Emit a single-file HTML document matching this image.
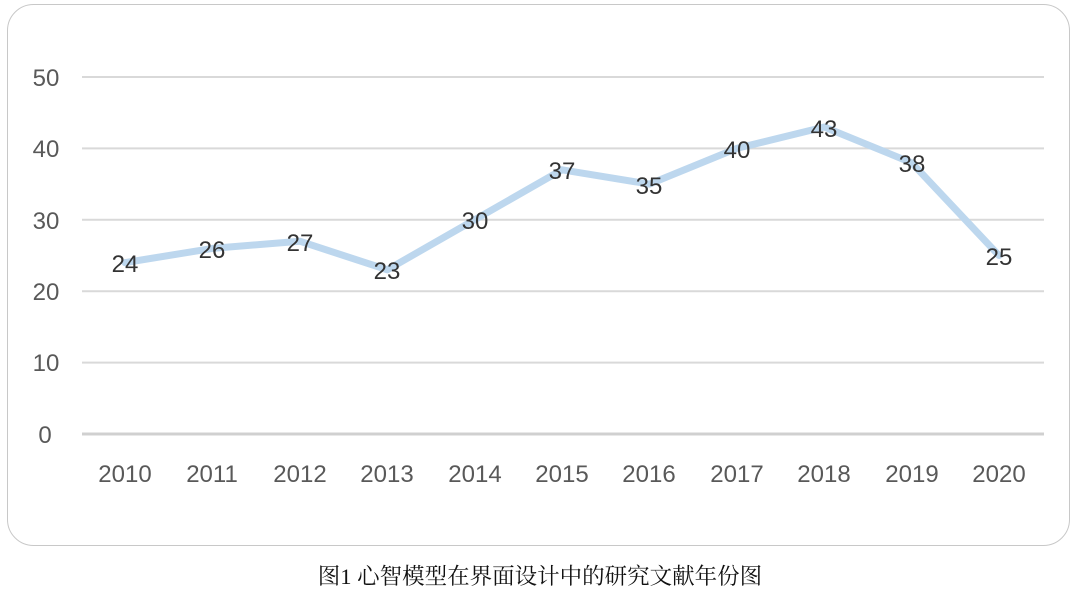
<!DOCTYPE html>
<html><head><meta charset="utf-8"><style>
body{margin:0;background:#fff;width:1071px;height:605px;overflow:hidden}
</style></head><body>
<svg width="1071" height="605" xmlns="http://www.w3.org/2000/svg" font-family="'Liberation Sans','DejaVu Sans',sans-serif">
<rect x="7.5" y="4.5" width="1062" height="541" rx="26" fill="#fff" stroke="#c8c8c8" stroke-width="1"/>
<g stroke="#d9d9d9" stroke-width="2">
<line x1="82" y1="77" x2="1044" y2="77"/>
<line x1="82" y1="148.4" x2="1044" y2="148.4"/>
<line x1="82" y1="219.8" x2="1044" y2="219.8"/>
<line x1="82" y1="291.2" x2="1044" y2="291.2"/>
<line x1="82" y1="362.6" x2="1044" y2="362.6"/>
<line x1="82" y1="434" x2="1044" y2="434" stroke="#d0d0d0" stroke-width="3"/>
</g>
<g fill="#595959" font-size="24" text-anchor="middle">
<text x="46" y="86">50</text><text x="46" y="157">40</text><text x="46" y="229">30</text>
<text x="46" y="300">20</text><text x="46" y="371">10</text><text x="45" y="443">0</text>
<text x="125" y="482">2010</text><text x="212" y="482">2011</text><text x="300" y="482">2012</text>
<text x="387" y="482">2013</text><text x="475" y="482">2014</text><text x="562" y="482">2015</text>
<text x="649" y="482">2016</text><text x="737" y="482">2017</text><text x="824" y="482">2018</text>
<text x="912" y="482">2019</text><text x="999" y="482">2020</text>
</g>
<polyline fill="none" stroke="#bdd7ee" stroke-width="7" stroke-linejoin="round" stroke-linecap="round"
points="125,262.6 212.4,248.4 299.8,241.2 387.2,269.8 474.6,219.8 562,169.8 649.4,184.1 736.8,148.4 824.2,127 911.6,162.7 999,255.5"/>
<g fill="#333" font-size="24" text-anchor="middle">
<text x="125" y="272">24</text><text x="212" y="258">26</text><text x="300" y="251">27</text>
<text x="387" y="279">23</text><text x="475" y="229">30</text><text x="562" y="179">37</text>
<text x="649" y="194">35</text><text x="737" y="158">40</text><text x="824" y="137">43</text>
<text x="912" y="172">38</text><text x="999" y="265">25</text>
</g>
<text x="540" y="584" text-anchor="middle" font-size="22.5" fill="#111" font-family="'Liberation Serif','Noto Serif CJK SC',serif">图1 心智模型在界面设计中的研究文献年份图</text>
</svg>
</body></html>
